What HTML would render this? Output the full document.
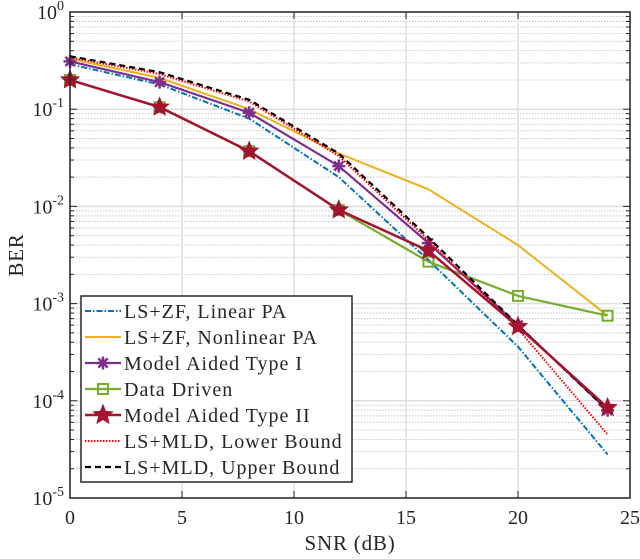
<!DOCTYPE html>
<html><head><meta charset="utf-8"><style>
body{margin:0;background:#fff}
svg text{font-family:"Liberation Serif",serif;fill:#262626}
</style></head><body>
<svg id="chart" width="640" height="554">
<g id="grid"></g><g id="series"></g><g id="axes"></g><g id="legend"></g>
</svg>
<script>
const snr = [0,4,8,12,16,20,24];
const linearPA = [0.29,0.18,0.08,0.02,0.0028,0.00036,0.000028];
const nonlinearPA = [0.33,0.21,0.1,0.035,0.015,0.004,0.00075];
const typeI = [0.31,0.19,0.092,0.026,0.0042,0.0006,0.00008];
const dataDriven = [0.2,0.105,0.037,0.0092,0.0027,0.0012,0.00075];
const typeII = [0.2,0.105,0.037,0.0092,0.0035,0.00058,0.000085];
const lowerBound = [0.34,0.23,0.12,0.033,0.0045,0.00055,0.000045];
const upperBound = [0.35,0.24,0.125,0.035,0.0048,0.0006,0.00008];
const xTicks = [0,5,10,15,20,25];
const yExps = [0,-1,-2,-3,-4,-5];
const legendLabels = ["LS+ZF, Linear PA","LS+ZF, Nonlinear PA","Model Aided Type I","Data Driven","Model Aided Type II","LS+MLD, Lower Bound","LS+MLD, Upper Bound"];

const L=70,R=630,T=12,B=498;
const X=v=>L+(v/25)*(R-L);
const Y=v=>T+(-Math.log10(v)/5)*(B-T);
const NS="http://www.w3.org/2000/svg";
function mk(tag,attrs,parent){const e=document.createElementNS(NS,tag);for(const k in attrs)e.setAttribute(k,attrs[k]);parent.appendChild(e);return e;}
const grid=document.getElementById('grid'),axes=document.getElementById('axes'),ser=document.getElementById('series'),leg=document.getElementById('legend');
for(let d=0;d<5;d++)for(let m=2;m<=9;m++){const y=Y(m*Math.pow(10,-d-1));
 const l=mk('line',{x1:L,x2:R,y1:y,y2:y,stroke:'#c8c8c8','stroke-width':1,'stroke-dasharray':'1.5,1.5'},grid);
 
 }
yExps.forEach(e=>{const y=Y(Math.pow(10,e));
 const l=mk('line',{x1:L,x2:R,y1:y,y2:y,stroke:'#dedede','stroke-width':1.5},grid);
 
 
 for(let m=2;m<=9&&e>-5;m++){const yy=Y(m*Math.pow(10,e-1));mk('line',{x1:L,x2:L+4,y1:yy,y2:yy,stroke:'#262626'},axes);mk('line',{x1:R,x2:R-4,y1:yy,y2:yy,stroke:'#262626'},axes);}
 mk('line',{x1:L,x2:L+7,y1:y,y2:y,stroke:'#262626'},axes);mk('line',{x1:R,x2:R-7,y1:y,y2:y,stroke:'#262626'},axes);
 const t=mk('text',{x:L-6,y:y+7,'text-anchor':'end','font-size':20},axes);
 
 
 t.innerHTML='10<tspan dy="-9" font-size="14">'+e+'</tspan>';});
xTicks.forEach(v=>{const x=X(v);
 const l=mk('line',{x1:x,x2:x,y1:T,y2:B,stroke:'#dedede','stroke-width':1.5},grid);
 
 
 mk('line',{x1:x,x2:x,y1:B,y2:B-7,stroke:'#262626'},axes);mk('line',{x1:x,x2:x,y1:T,y2:T+7,stroke:'#262626'},axes);
 const t=mk('text',{x:x,y:B+26,'text-anchor':'middle','font-size':20},axes);
 
 
 t.textContent=v;});
const frame=mk('rect',{x:L,y:T,width:R-L,height:B-T,fill:'none',stroke:'#262626','stroke-width':1.5},axes);


let xt=mk('text',{x:(L+R)/2,y:550,'text-anchor':'middle','font-size':21,'letter-spacing':0.8},axes);


xt.textContent='SNR (dB)';
let yt=mk('text',{x:0,y:0,'text-anchor':'middle','font-size':21,'letter-spacing':0.8,transform:'translate(23,255) rotate(-90)'},axes);


yt.textContent='BER';

function star(cx,cy,r,p,fill){const pts=[];for(let i=0;i<10;i++){const a=-Math.PI/2+i*Math.PI/5,rr=i%2?r*0.45:r;pts.push((cx+rr*Math.cos(a)).toFixed(1)+','+(cy+rr*Math.sin(a)).toFixed(1));}return mk('polygon',{points:pts.join(' '),fill:fill,stroke:fill,'stroke-width':1},p);}
function asterisk(cx,cy,r,p,c){const g=mk('g',{stroke:c,'stroke-width':2.5},p);for(let i=0;i<4;i++){const a=i*Math.PI/4;mk('line',{x1:cx-r*Math.cos(a),y1:cy-r*Math.sin(a),x2:cx+r*Math.cos(a),y2:cy+r*Math.sin(a)},g);}return g;}
function square(cx,cy,r,p,c){return mk('rect',{x:cx-r,y:cy-r,width:2*r,height:2*r,fill:'none',stroke:c,'stroke-width':2},p);}
const defs=[
 {d:nonlinearPA,c:'#EDB120',w:2,dash:'',m:null,name:'nonlinear-pa'},
 {d:linearPA,c:'#0072BD',w:2,dash:'6,2,1.5,2',m:null,name:'linear-pa'},
 {d:dataDriven,c:'#77AC30',w:2.2,dash:'',m:'sq',name:'data-driven'},
 {d:typeI,c:'#7E2F8E',w:2.2,dash:'',m:'ast',name:'type-i'},
 {d:lowerBound,c:'#FF0000',w:2,dash:'1.5,1.5',m:null,name:'lower-bound'},
 {d:upperBound,c:'#000000',w:2.2,dash:'6,4',m:null,name:'upper-bound'},
 {d:typeII,c:'#A2142F',w:2.5,dash:'',m:'star',name:'type-ii'}];
defs.forEach(s=>{const g=mk('g',{},ser);
 
 
 const pts=s.d.map((v,i)=>X(snr[i]).toFixed(1)+','+Y(v).toFixed(1)).join(' ');
 mk('polyline',{points:pts,fill:'none',stroke:s.c,'stroke-width':s.w,'stroke-dasharray':s.dash},g);
 s.d.forEach((v,i)=>{const x=X(snr[i]),y=Y(v);let mkr=null;
  if(s.m==='star')mkr=star(x,y,9.5,g,s.c);else if(s.m==='ast')mkr=asterisk(x,y,6.5,g,s.c);else if(s.m==='sq')mkr=square(x,y,5,g,s.c);
  if(mkr){
  }});});
const lb=mk('rect',{x:81,y:296,width:271,height:186,fill:'#fff',stroke:'#262626','stroke-width':1.5},leg);


const order=[1,0,3,2,6,4,5];
legendLabels.forEach((lab,i)=>{const s=defs[order[i]];const y=311+i*26;
 const g=mk('g',{},leg);
 
 
 mk('line',{x1:85,x2:121,y1:y,y2:y,stroke:s.c,'stroke-width':s.w,'stroke-dasharray':s.dash},g);
 if(s.m==='star')star(103,y,10,g,s.c);else if(s.m==='ast')asterisk(103,y,6.5,g,s.c);else if(s.m==='sq')square(103,y,5,g,s.c);
 const t=mk('text',{x:124,y:y+7,'font-size':20,'letter-spacing':1},g);t.textContent=lab;});
</script>
</body></html>
